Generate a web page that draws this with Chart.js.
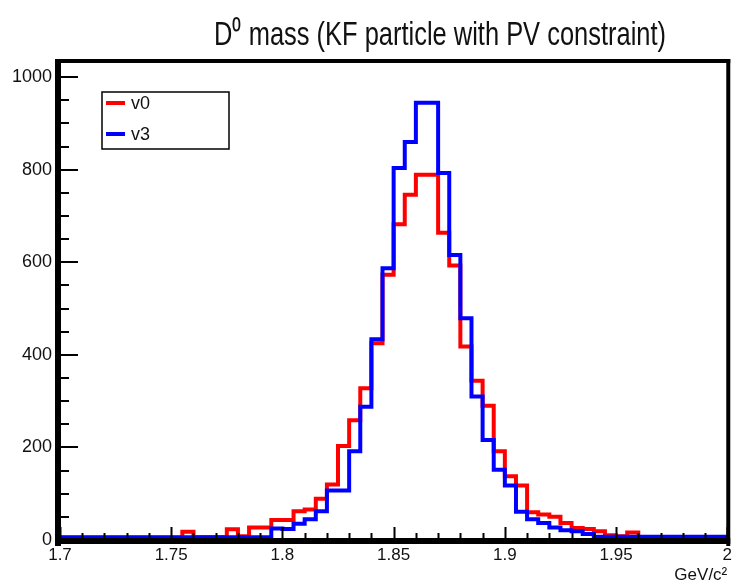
<!DOCTYPE html>
<html><head><meta charset="utf-8">
<script src="https://cdn.jsdelivr.net/npm/chart.js@4.4.0/dist/chart.umd.min.js"></script>
<style>html,body{margin:0;padding:0;background:#fff;overflow:hidden}#wrap{width:737px;height:587px}</style>
</head><body><div id="wrap"><canvas id="c" width="737" height="587"></canvas></div>
<script>
// ---- data ----
const xRange = [1.7, 2.0];
const binWidth = 0.005;
const seriesNames = ['v0', 'v3'];
const v0Counts = [5,5,5,5,5,5,5,5,5,5, 5,18,6,6,6,23,8,27,27,43, 43,62,66,89,120,203,259,328,425,573, 682,746,789,789,664,593,418,344,290,192, 138,118,60,55,50,37,26,24,19,10, 8,16,5,5,5,5,5,5,5,5];
const v3Counts = [6,6,6,6,6,6,6,6,6,6, 6,6,6,6,6,6,6,6,6,25, 24,35,45,62,107,107,192,288,434,587, 804,860,945,945,793,616,479,310,216,152, 118,61,45,37,27,21,19,13,7,7, 7,7,7,7,7,7,7,7,7,7];
const xTickValues = [1.7, 1.75, 1.8, 1.85, 1.9, 1.95, 2.0];
const xTickLabels = ['1.7', '1.75', '1.8', '1.85', '1.9', '1.95', '2'];
const yTickValues = [0, 200, 400, 600, 800, 1000];
const yTickLabels = ['0', '200', '400', '600', '800', '1000'];
const yMax = 1035;
const titleText = 'D\u2070 mass (KF particle with PV constraint)';
const xUnit = 'GeV/c\u00B2';

const FONT = "'Liberation Sans', Arial, Helvetica, sans-serif";

function toSteps(counts) {
  const pts = counts.map((c, i) => ({ x: xRange[0] + i * binWidth, y: c }));
  pts.push({ x: xRange[0] + counts.length * binWidth, y: counts[counts.length - 1] });
  return pts;
}

const framePlugin = {
  id: 'frame',
  afterDatasetsDraw(chart) {
    const { ctx, chartArea: a, scales } = chart;
    const xs = scales.x, ys = scales.y;
    ctx.save();
    ctx.strokeStyle = '#000';
    ctx.lineWidth = 2;
    ctx.beginPath();
    for (let k = 0; k <= 30; k++) {
      const v = xRange[0] + k * 0.01;
      const px = Math.round(xs.getPixelForValue(v)) + 0.5;
      const len = (k % 5 === 0) ? 13 : 7;
      ctx.moveTo(px, a.bottom);
      ctx.lineTo(px, a.bottom - len);
    }
    for (let v = 0; v <= 1000; v += 50) {
      const py = Math.round(ys.getPixelForValue(v));
      const len = (v % 200 === 0) ? 18 : 9;
      ctx.moveTo(a.left, py);
      ctx.lineTo(a.left + len, py);
    }
    ctx.stroke();
    ctx.fillStyle = '#000';
    ctx.fillRect(a.left - 5, a.top - 2, 6, a.bottom - a.top + 8);
    ctx.fillRect(a.left - 5, a.bottom - 2, a.right - a.left + 8, 6);
    ctx.fillRect(a.left - 5, a.top - 2, a.right - a.left + 8, 4);
    ctx.fillRect(a.right - 1, a.top - 2, 4, a.bottom - a.top + 8);
    ctx.restore();
  },
  afterDraw(chart) {
    const { ctx } = chart;
    const ds = chart.data.datasets;
    ctx.save();
    // title (condensed, like the reference)
    ctx.font = '33px ' + FONT;
    ctx.fillStyle = '#111';
    ctx.textBaseline = 'alphabetic';
    ctx.textAlign = 'left';
    const w = ctx.measureText(titleText).width;
    const targetW = 452, sx = targetW / w;
    ctx.save();
    ctx.translate(440 - targetW / 2, 45);
    ctx.scale(sx, 1);
    ctx.fillText(titleText, 0, 0);
    ctx.restore();
    // legend
    ctx.fillStyle = '#fff';
    ctx.fillRect(102, 92, 127, 57);
    ctx.strokeStyle = '#000';
    ctx.lineWidth = 1.5;
    ctx.strokeRect(102, 92, 127, 57);
    const rows = [103, 134];
    ds.forEach((d, i) => {
      ctx.strokeStyle = d.borderColor;
      ctx.lineWidth = 4;
      ctx.beginPath();
      ctx.moveTo(106, rows[i]);
      ctx.lineTo(125, rows[i]);
      ctx.stroke();
      ctx.fillStyle = '#111';
      ctx.font = '18px ' + FONT;
      ctx.textBaseline = 'middle';
      ctx.textAlign = 'left';
      ctx.fillText(d.label, 131, rows[i] + 1);
    });
    ctx.restore();
  }
};

new Chart(document.getElementById('c'), {
  type: 'line',
  data: {
    datasets: [
      { label: seriesNames[0], data: toSteps(v0Counts), borderColor: '#ff0000', borderWidth: 4, stepped: true, pointRadius: 0, fill: false, order: 1, borderJoinStyle: 'miter', borderCapStyle: 'butt' },
      { label: seriesNames[1], data: toSteps(v3Counts), borderColor: '#0000ff', borderWidth: 4, stepped: true, pointRadius: 0, fill: false, order: 0, borderJoinStyle: 'miter', borderCapStyle: 'butt' }
    ]
  },
  options: {
    responsive: false,
    animation: false,
    devicePixelRatio: 1,
    layout: { padding: { left: 0, right: 4, top: 61, bottom: 0 } },
    plugins: {
      legend: { display: false },
      tooltip: { enabled: false },
      title: { display: false, text: titleText }
    },
    scales: {
      x: {
        type: 'linear', min: xRange[0], max: xRange[1],
        afterBuildTicks: s => { s.ticks = xTickValues.map(v => ({ value: v })); },
        afterFit: s => { s.height = 47; },
        grid: { display: false, drawTicks: false },
        border: { display: false },
        ticks: { autoSkip: false, maxRotation: 0, padding: 5, color: '#111', font: { family: FONT, size: 17 }, callback: (v, i) => xTickLabels[i] },
        title: { display: true, text: xUnit, align: 'end', color: '#111', font: { family: FONT, size: 17 }, padding: { top: 0, bottom: 1 } }
      },
      y: {
        type: 'linear', min: 0, max: yMax,
        afterBuildTicks: s => { s.ticks = yTickValues.map(v => ({ value: v })); },
        afterFit: s => { s.width = 60; },
        grid: { display: false, drawTicks: false },
        border: { display: false },
        ticks: { padding: 8, color: '#111', font: { family: FONT, size: 18 }, callback: (v, i) => yTickLabels[i] }
      }
    }
  },
  plugins: [framePlugin]
});
</script>
</body></html>
